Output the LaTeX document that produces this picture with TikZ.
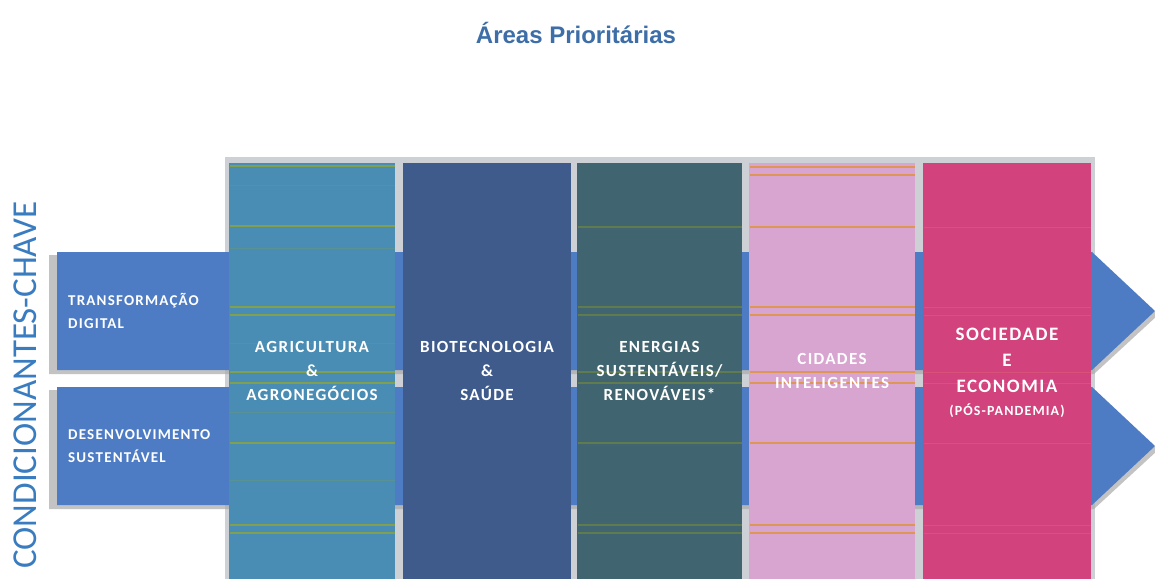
\documentclass[tikz,border=0pt]{standalone}
\usepackage{fontspec}
\setmainfont{Carlito}
\newfontfamily\lblfont[LetterSpace=8]{Carlito}
\newfontfamily\titlefont{Liberation Sans}
\definecolor{titleblue}{RGB}{61,110,168}
\definecolor{vblue}{RGB}{58,124,192}
\definecolor{bandblue}{RGB}{78,124,196}
\definecolor{shadowgrey}{RGB}{170,170,170}
\definecolor{gapgrey}{RGB}{205,208,212}
\definecolor{colA}{RGB}{73,141,180}
\definecolor{colB}{RGB}{62,91,140}
\definecolor{colC}{RGB}{64,101,112}
\definecolor{colD}{RGB}{216,164,208}
\definecolor{colE}{RGB}{210,66,125}
\definecolor{greenline}{RGB}{128,160,80}
\definecolor{olivedark}{RGB}{105,130,70}
\definecolor{orangeline}{RGB}{222,150,85}
\definecolor{roseline}{RGB}{226,110,110}
\tikzset{
  column/.style={minimum width=#1, minimum height=416pt, inner sep=0pt},
  collabel/.style={text=white, align=center, inner sep=0pt,
    font=\lblfont\bfseries\fontsize{17}{24}\selectfont},
  bandlabel/.style={anchor=west, text=white, align=left, inner sep=0pt,
    font=\lblfont\bfseries\fontsize{15}{22.5}\selectfont},
  band/.style={fill=bandblue},
  bandshadow/.style={fill=shadowgrey, opacity=0.7},
}
\begin{document}
\begin{tikzpicture}[x=1pt,y=-1pt]
\useasboundingbox (0,0) rectangle (1155,578);
\fill[white] (0,0) rectangle (1155,578);

% title and vertical label
\node[font=\titlefont\bfseries\fontsize{24}{28}\selectfont, text=titleblue] (title) at (576,33) {Áreas Prioritárias};
\node[rotate=90, font=\fontsize{35}{40}\selectfont, text=vblue, inner sep=0pt] (cond) at (25,385) {CONDICIONANTES-CHAVE};

% grey backdrop behind the columns
\fill[gapgrey] (225,157) rectangle (1095,580);

% band shadows
\fill[bandshadow] (49,255) -- (1094,255) -- (1158,315) -- (1094,374) -- (49,374) -- cycle;
\fill[bandshadow] (49,390) -- (1094,390) -- (1158,450) -- (1094,509) -- (49,509) -- cycle;

% bands
\fill[band] (57,252) -- (1092,252) -- (1155,311) -- (1092,370) -- (57,370) -- cycle;
\fill[band] (57,387) -- (1092,387) -- (1155,446) -- (1092,505) -- (57,505) -- cycle;

% columns
\node[column=166pt, fill=colA] (agri) at (312,371) {};
\node[column=168pt, fill=colB] (bio) at (487,371) {};
\node[column=165pt, fill=colC] (ener) at (659.5,371) {};
\node[column=166pt, fill=colD] (cid) at (832,371) {};
\node[column=168pt, fill=colE] (soc) at (1007,371) {};

% stripes
\foreach \y in {166,226,307,315,372,383,443,525,533}
  \draw[greenline, line width=1.4pt] (229.5,\y) -- (394.5,\y);
\foreach \y in {185,248,343,412,480}
  \draw[greenline, line width=0.6pt, opacity=0.3] (229.5,\y) -- (394.5,\y);
\foreach \y in {227,307,315,372,383,443,525,533}
  \draw[olivedark, line width=1.4pt, opacity=0.8] (577.5,\y) -- (741.5,\y);
\foreach \y in {167,175,227,307,315,372,383,443,525,533}
  \draw[orangeline, line width=1.4pt] (749.5,\y) -- (914.5,\y);
\foreach \y in {227,307,315,372,383,443,525,533}
  \draw[roseline, line width=1pt, opacity=0.4] (923.5,\y) -- (1090.5,\y);

% column labels
\node[collabel] (agriT) at (agri.center) {AGRICULTURA\\\&\\AGRONEGÓCIOS};
\node[collabel] (bioT) at (bio.center) {BIOTECNOLOGIA\\\&\\SAÚDE};
\node[collabel] (enerT) at (ener.center) {ENERGIAS\\SUSTENTÁVEIS/\\RENOVÁVEIS*};
\node[collabel] (cidT) at (cid.center) {CIDADES\\INTELIGENTES};
\node[collabel, font=\lblfont\bfseries\fontsize{19}{26}\selectfont] (socT) at (1007,373) {SOCIEDADE\\E\\ECONOMIA\\[-3pt]{\fontsize{14}{17}\selectfont(PÓS-PANDEMIA)}};

% band labels
\node[bandlabel] (digT) at (68,311) {TRANSFORMAÇÃO\\DIGITAL};
\node[bandlabel] (susT) at (68,446) {DESENVOLVIMENTO\\SUSTENTÁVEL};
\end{tikzpicture}
\end{document}
